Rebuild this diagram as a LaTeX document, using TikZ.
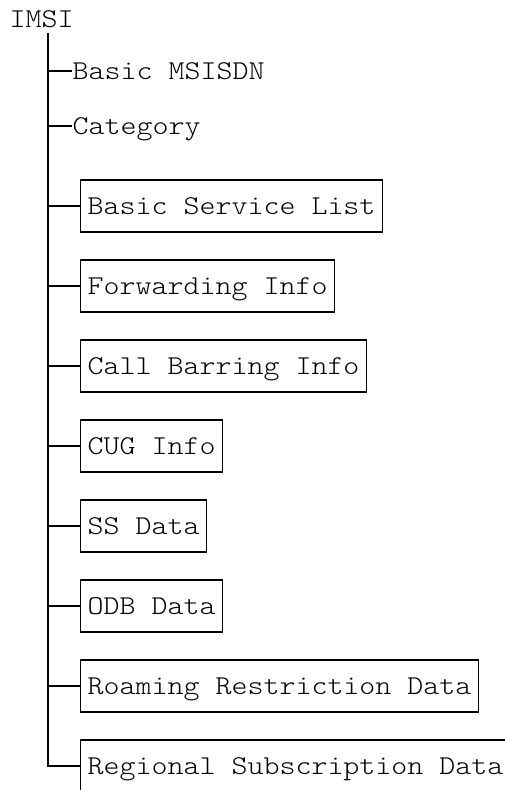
\documentclass[tikz,border=0pt]{standalone}
\usepackage{fontspec}
\setmonofont[FakeStretch=1.12]{lmmonolt10-regular.otf}
\tikzset{
  leaf/.style={anchor=west, inner sep=0pt, text height=16.5pt, text depth=0pt},
  rec/.style={draw, line width=1.2pt, anchor=west, inner xsep=7pt, inner ysep=0pt,
    minimum height=52pt, text height=16.5pt, text depth=0pt}
}
\begin{document}
\begin{tikzpicture}[x=1pt, y=-1pt, font=\ttfamily\fontsize{27.2}{30}\selectfont, line width=1.2pt]
\useasboundingbox (0,0) rectangle (504,790);

\node[anchor=base west, inner sep=0pt] (imsi) at (9,27) {IMSI};
\node[coordinate] (top) at (48,33) {};
\node[coordinate] (bot) at (48,766) {};

\node[leaf] (msisdn) at (72,71) {Basic MSISDN};
\node[leaf] (cat) at (72,126) {Category};

\node[rec] (bsl) at (80,206) {Basic Service List};
\node[rec] (fwd) at (80,286) {Forwarding Info};
\node[rec] (cb) at (80,366) {Call Barring Info};
\node[rec] (cug) at (80,446) {CUG Info};
\node[rec] (ss) at (80,526) {SS Data};
\node[rec] (odb) at (80,606) {ODB Data};
\node[rec] (roam) at (80,686) {Roaming Restriction Data};
\node[rec] (reg) at (80,766) {Regional Subscription Data};

\draw [line width=1.5pt] (top)--(bot)--(reg.west);
\draw (top |- msisdn)--(msisdn.west);
\draw (top |- cat)--(cat.west);
\draw (top |- bsl)--(bsl.west);
\draw (top |- fwd)--(fwd.west);
\draw (top |- cb)--(cb.west);
\draw (top |- cug)--(cug.west);
\draw (top |- ss)--(ss.west);
\draw (top |- odb)--(odb.west);
\draw (top |- roam)--(roam.west);

\end{tikzpicture}
\end{document}
